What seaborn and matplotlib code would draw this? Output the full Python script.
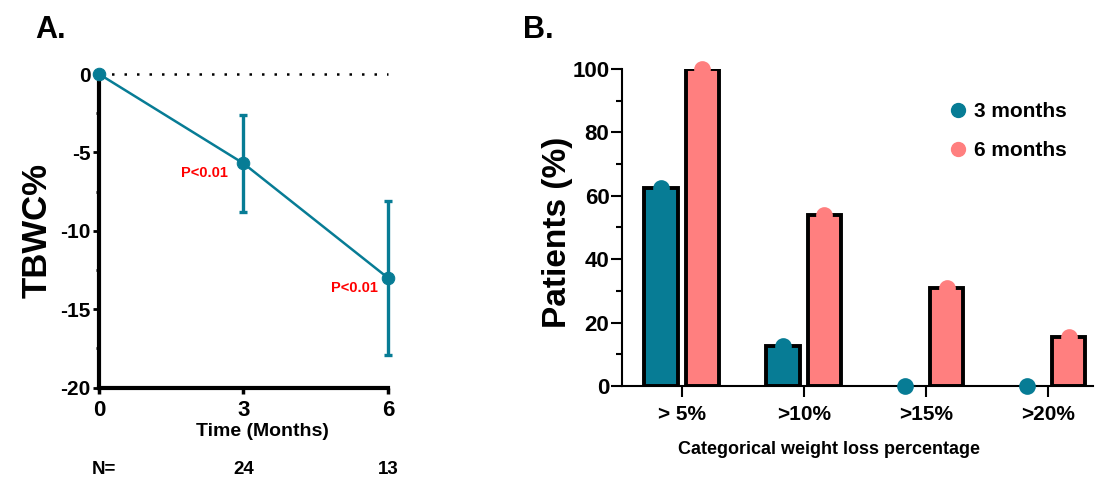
import matplotlib
matplotlib.use("Agg")
import matplotlib.pyplot as plt
import seaborn as sns
import pandas as pd
import numpy as np
from matplotlib.lines import Line2D
from matplotlib.ticker import MultipleLocator
from matplotlib.transforms import blended_transform_factory

# Panel A: total body weight change (%) over time
months = [0, 3, 6]
tbwc_mean = [0.0, -5.7, -13.0]
tbwc_upper = [0.0, -2.6, -8.1]
tbwc_lower = [0.0, -8.8, -17.9]
n_labels = ["N=", "24", "13"]
p_labels = ["", "P<0.01", "P<0.01"]

# Panel B: categorical weight loss
categories = ["> 5%", ">10%", ">15%", ">20%"]
pct_3m = [62.5, 12.5, 0.0, 0.0]
pct_6m = [100.0, 53.8, 30.8, 15.4]
groups = ["3 months", "6 months"]

TEAL = "#077C95"
PINK = "#FF7F7F"

sns.set_style("ticks")
plt.rcParams["font.family"] = ["Liberation Sans", "DejaVu Sans"]
plt.rcParams["font.weight"] = "bold"
plt.rcParams["axes.labelweight"] = "bold"
plt.rcParams["axes.unicode_minus"] = False
for key in ["text.color", "axes.labelcolor", "xtick.color", "ytick.color", "axes.edgecolor"]:
    plt.rcParams[key] = "black"

fig = plt.figure(figsize=(10.95, 4.84), dpi=100)

# ---------------- Panel A ----------------
ax_a = fig.add_axes([0.0904, 0.1990, 0.2639, 0.6481])
df_a = pd.DataFrame({"month": months, "tbwc": tbwc_mean})

ax_a.axhline(0, color="black", lw=1.8, ls=(0, (1, 4)), zorder=1)
sns.lineplot(data=df_a, x="month", y="tbwc", color=TEAL, lw=1.8,
             marker="o", markersize=9, markeredgecolor=TEAL, ax=ax_a, zorder=3)
err = [np.array(tbwc_mean) - np.array(tbwc_lower),
       np.array(tbwc_upper) - np.array(tbwc_mean)]
eb = ax_a.errorbar(months, tbwc_mean, yerr=err, fmt="none", ecolor=TEAL,
                   elinewidth=2.4, capsize=3, capthick=2.4, zorder=2)
for art in eb.lines[1] + eb.lines[2]:
    art.set_clip_on(False)
for ln in ax_a.lines:
    ln.set_clip_on(False)

# p-value annotations, offsets in points from each point
p_offsets = [(0, 0), (-11, -7), (-7, -7)]
for x, y, lab, off in zip(months, tbwc_mean, p_labels, p_offsets):
    if lab:
        ax_a.annotate(lab, (x, y), xytext=off, textcoords="offset points",
                      ha="right", va="center", color="#FF0000",
                      fontsize=10.5, fontweight="bold")

ax_a.set_xlim(0, 6)
ax_a.set_ylim(-20, 0)
ax_a.set_xticks(months)
ax_a.set_yticks([0, -5, -10, -15, -20])
ax_a.yaxis.set_minor_locator(MultipleLocator(2.5))
for side in ["top", "right"]:
    ax_a.spines[side].set_visible(False)
for side in ["left", "bottom"]:
    ax_a.spines[side].set_linewidth(3)
ax_a.tick_params(axis="x", length=4, width=2.5, labelsize=16, pad=5)
ax_a.tick_params(axis="y", which="major", length=4, width=2, labelsize=15, pad=2)
ax_a.tick_params(axis="y", which="minor", length=2.5, width=2)
ax_a.set_xlabel("Time (Months)", fontsize=14)
ax_a.xaxis.set_label_coords(0.564, -0.1125)
ax_a.set_ylabel("TBWC%", fontsize=25)
ax_a.yaxis.set_label_coords(-0.156, 0.5)

trans = blended_transform_factory(ax_a.transData, ax_a.transAxes)
n_pos = [-0.15, 3, 6]
n_ha = ["left", "center", "center"]
for x, lab, ha in zip(n_pos, n_labels, n_ha):
    ax_a.text(x, -0.262, lab, transform=trans, ha=ha, va="center",
              fontsize=13.5, fontweight="bold")

# ---------------- Panel B ----------------
ax_b = fig.add_axes([0.5680, 0.2025, 0.4301, 0.6550])
df_b = pd.DataFrame({
    "category": categories * 2,
    "group": [groups[0]] * len(categories) + [groups[1]] * len(categories),
    "pct": pct_3m + pct_6m,
})

sns.barplot(data=df_b, x="category", y="pct", hue="group",
            palette=[TEAL, PINK], saturation=1, width=0.68, gap=0.2,
            edgecolor="black", linewidth=2.8, legend=False, ax=ax_b, zorder=2)
for p in ax_b.patches:
    if p.get_height() == 0:
        p.set_visible(False)

sns.pointplot(data=df_b, x="category", y="pct", hue="group",
              palette=[TEAL, PINK], dodge=0.34, linestyle="none",
              markers="o", markersize=10, errorbar=None, legend=False, ax=ax_b)
for ln in ax_b.lines:
    ln.set_clip_on(False)
    ln.set_zorder(4)

ax_b.set_xlim(-0.49, 3.37)
ax_b.set_ylim(0, 100)
ax_b.set_yticks(range(0, 101, 20))
ax_b.yaxis.set_minor_locator(MultipleLocator(10))
for side in ["top", "right"]:
    ax_b.spines[side].set_visible(False)
for side in ["left", "bottom"]:
    ax_b.spines[side].set_linewidth(1.5)
ax_b.tick_params(axis="x", length=8, width=1.5, labelsize=15, pad=6)
ax_b.tick_params(axis="y", which="major", length=8, width=1.5, labelsize=16, pad=1)
ax_b.tick_params(axis="y", which="minor", length=4.5, width=1.5)
ax_b.set_xlabel("Categorical weight loss percentage", fontsize=13)
ax_b.xaxis.set_label_coords(0.44, -0.172)
ax_b.set_ylabel("Patients (%)", fontsize=24)
ax_b.yaxis.set_label_coords(-0.105, 0.484)

handles = [Line2D([], [], marker="o", ls="none", color=c, markersize=10)
           for c in [TEAL, PINK]]
ax_b.legend(handles, groups, loc="upper left", bbox_to_anchor=(0.692, 0.895),
            frameon=False, fontsize=15, handlelength=1.0, handletextpad=0.25,
            labelspacing=0.95, borderpad=0, borderaxespad=0)

fig.text(35 / 1095, 1 - 38 / 484, "A.", fontsize=22, fontweight="bold", va="baseline")
fig.text(523 / 1095, 1 - 38 / 484, "B.", fontsize=22, fontweight="bold", va="baseline")

fig.savefig("out.png", dpi=100)
